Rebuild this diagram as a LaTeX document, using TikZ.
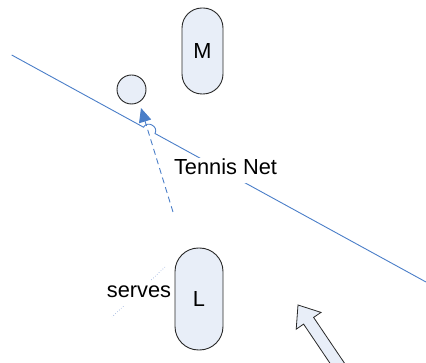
\documentclass[tikz,border=0pt]{standalone}
\usepackage{fontspec}
\setmainfont{Liberation Sans}
\usetikzlibrary{arrows.meta}
\definecolor{pillfill}{RGB}{232,238,248}
\definecolor{netblue}{RGB}{74,126,200}
\definecolor{dotblue}{RGB}{130,160,215}
\definecolor{edgegray}{RGB}{40,40,40}
\tikzset{
  pill/.style={draw=edgegray, line width=0.9pt, fill=pillfill, rectangle, inner sep=0pt},
  ballstyle/.style={draw=edgegray, line width=0.9pt, fill=pillfill, circle, inner sep=0pt, minimum size=29pt},
  lbl/.style={fill=white, inner sep=2pt, text height=14.5pt, text depth=6pt, anchor=base},
  netline/.style={draw=netblue, line width=0.9pt},
  dashedarrow/.style={draw=netblue, line width=0.9pt, dash pattern=on 6pt off 4pt, -{Triangle[length=14pt,width=12.5pt]}},
  dotline/.style={draw=dotblue, line width=0.6pt, dash pattern=on 0.6pt off 2pt},
  blockarrow/.style={draw=edgegray, line width=0.8pt, fill=pillfill, line join=miter}
}
\begin{document}
\begin{tikzpicture}[x=1pt,y=-1pt]
\useasboundingbox (0,0) rectangle (426,363);
\fontsize{21.8}{26}\selectfont
% net line with hop
\coordinate (netL) at (11.7,55);
\coordinate (hopA) at (143.5,127.2);
\coordinate (hopB) at (155,133.5);
\coordinate (netR) at (426,282);
\draw[netline] (netL) -- (hopA) .. controls (147.3,120.2) and (158.8,126.5) .. (hopB) -- (netR);
% dotted serve line
\coordinate (servA) at (165,267);
\coordinate (servB) at (112,317);
\draw[dotline] (servA) -- (servB);
% labels
\node[lbl] (netlabel) at (225.5,175) {Tennis Net};
\node[lbl] (serves) at (139,298) {serves};
% players and ball
\node[pill, minimum width=41pt, minimum height=86pt, rounded corners=20pt] (M) at (202.5,51) {M};
\node[pill, minimum width=48pt, minimum height=102pt, rounded corners=23.5pt] (L) at (199,299) {L};
\node[ballstyle] (ball) at (131.5,89.5) {};
% dashed serve arrow
\coordinate (dashS) at (173,212);
\coordinate (tip) at (141,108);
\draw[dashedarrow] (dashS) -- (tip);
% block arrow (partly outside the picture)
\draw[blockarrow] (298,305) -- (321,312.4) -- (313.6,317.4) -- (358.9,384.5) -- (348.9,391.3) -- (303.6,324.1) -- (296.2,329.2) -- cycle;
\end{tikzpicture}
\end{document}
